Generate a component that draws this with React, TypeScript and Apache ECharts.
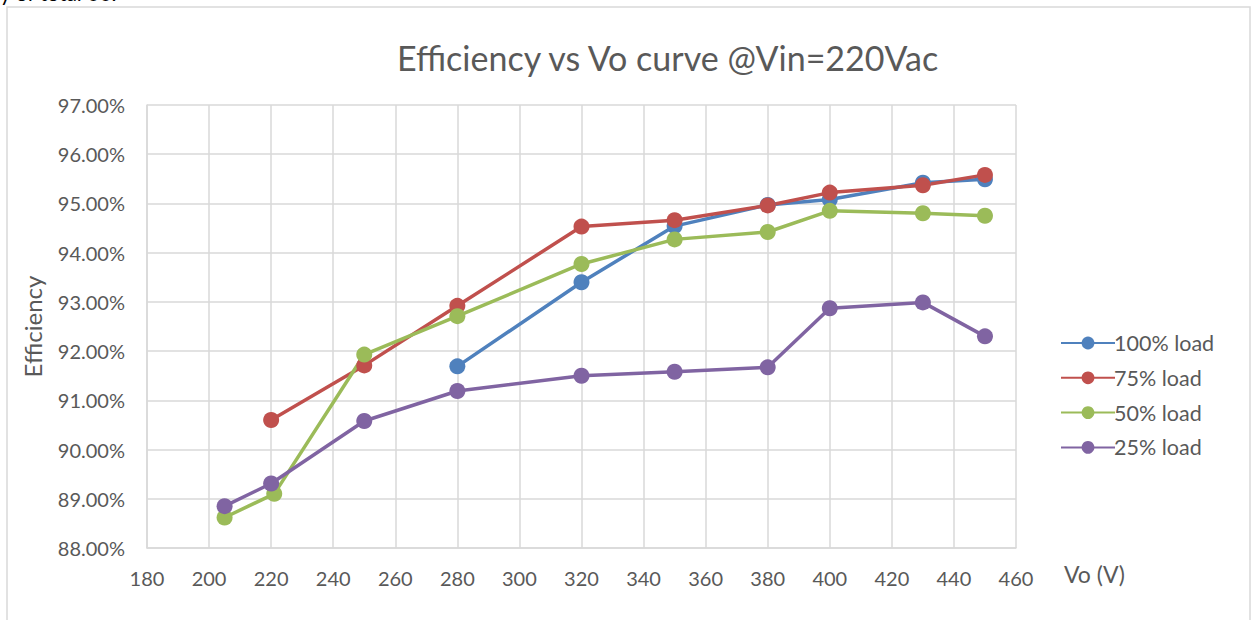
import React, { useEffect, useRef } from "react";
import * as echarts from "echarts";

const TITLE = "Efficiency vs Vo curve @Vin=220Vac";
const seriesNames = ["100% load", "75% load", "50% load", "25% load"];
const seriesColors = ["#4F81BD", "#C0504D", "#9BBB59", "#8064A2"];

const vo100 = [280, 320, 350, 380, 400, 430, 450];
const eff100 = [91.69, 93.4, 94.54, 94.97, 95.08, 95.42, 95.49];

const vo75 = [220, 250, 280, 320, 350, 380, 400, 430, 450];
const eff75 = [90.6, 91.71, 92.92, 94.53, 94.66, 94.96, 95.22, 95.37, 95.58];

const vo50 = [205, 221, 250, 280, 320, 350, 380, 400, 430, 450];
const eff50 = [88.62, 89.1, 91.93, 92.71, 93.77, 94.27, 94.42, 94.85, 94.8, 94.75];

const vo25 = [205, 220, 250, 280, 320, 350, 380, 400, 430, 450];
const eff25 = [88.85, 89.31, 90.58, 91.19, 91.5, 91.58, 91.67, 92.87, 92.99, 92.3];

const xMin = 180;
const xMax = 460;
const xInterval = 20;
const yMin = 88;
const yMax = 97;
const yInterval = 1;

const FONT = "Lato, 'Open Sans', sans-serif";
const TEXT = "#595959";
const GRID = "#d9d9d9";

export default function App() {
  const ref = useRef<HTMLDivElement>(null);
  useEffect(() => {
    if (!ref.current) return;
    const chart = echarts.init(ref.current, undefined, { renderer: "svg" });
    const xs = [vo100, vo75, vo50, vo25];
    const ys = [eff100, eff75, eff50, eff25];
    chart.setOption({
      animation: false,
      backgroundColor: "#ffffff",
      title: {
        text: TITLE,
        left: 392,
        top: 35,
        textStyle: { fontFamily: FONT, fontSize: 34, fontWeight: "normal", color: TEXT },
      },
      graphic: [
        {
          type: "text",
          left: 0,
          top: -18.5,
          style: { text: "y of total 00.", fontFamily: FONT, fontSize: 21, fill: "#000" },
        },
        {
          type: "rect",
          shape: { x: 7, y: 7, width: 1243, height: 700 },
          style: { fill: "none", stroke: GRID, lineWidth: 1.5 },
          silent: true,
        },
      ],
      legend: {
        orient: "vertical",
        left: 1055,
        top: 327,
        itemWidth: 54,
        itemHeight: 16,
        itemGap: 12.8,
        textStyle: { fontFamily: FONT, fontSize: 21.5, color: TEXT, lineHeight: 20, padding: [0, 0, 0, -6] },
        data: seriesNames,
      },
      grid: { left: 147, right: 235, top: 105, bottom: 72, containLabel: false },
      xAxis: {
        type: "value",
        min: xMin,
        max: xMax,
        interval: xInterval,
        name: "Vo (V)",
        nameLocation: "end",
        nameGap: 48,
        nameTextStyle: {
          fontFamily: FONT,
          fontSize: 23,
          color: TEXT,
          verticalAlign: "top",
          padding: [14, 0, 0, 0],
        },
        axisLine: { show: true, lineStyle: { color: GRID, width: 1.5 } },
        axisTick: { show: false },
        axisLabel: { fontFamily: FONT, fontSize: 20, color: TEXT, margin: 20 },
        splitLine: { show: true, lineStyle: { color: GRID, width: 1.5 } },
      },
      yAxis: {
        type: "value",
        min: yMin,
        max: yMax,
        interval: yInterval,
        name: "Efficiency",
        nameLocation: "middle",
        nameGap: 103,
        nameTextStyle: { fontFamily: FONT, fontSize: 24, color: TEXT },
        axisLine: { show: true, lineStyle: { color: GRID, width: 1.5 } },
        axisTick: { show: false },
        axisLabel: {
          fontFamily: FONT,
          fontSize: 20,
          color: TEXT,
          margin: 22,
          formatter: (v: number) => v.toFixed(2) + "%",
        },
        splitLine: { show: true, lineStyle: { color: GRID, width: 1.5 } },
      },
      series: seriesNames.map((name, i) => ({
        name,
        type: "line",
        data: xs[i].map((x, j) => [x, ys[i][j]]),
        symbol: "circle",
        symbolSize: 16,
        color: seriesColors[i],
        lineStyle: { width: 3.5, color: seriesColors[i] },
        itemStyle: { color: seriesColors[i] },
      })),
    });
    return () => chart.dispose();
  }, []);
  return (
    <div
      ref={ref}
      style={{ position: "fixed", left: 0, top: 0, width: 1251, height: 620, background: "#fff" }}
    />
  );
}
